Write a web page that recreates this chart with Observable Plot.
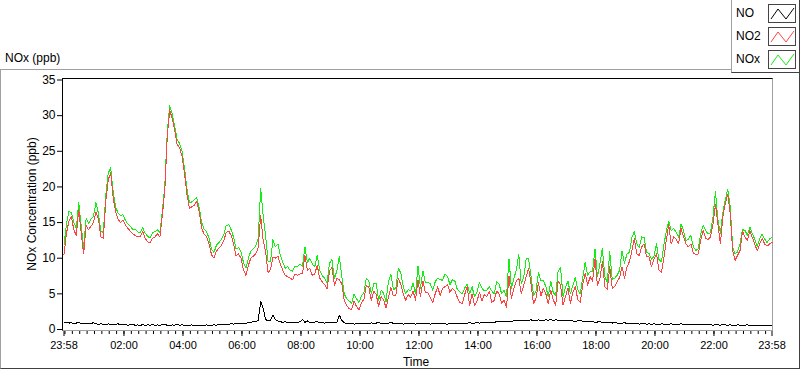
<!DOCTYPE html>
<html><head><meta charset="utf-8">
<script src="https://cdn.jsdelivr.net/npm/d3@7"></script>
<script src="https://cdn.jsdelivr.net/npm/@observablehq/plot@0.6"></script>
<style>
html,body{margin:0;padding:0;background:#fff;}
body{font-family:"Liberation Sans",Arial,sans-serif;color:#000;}
#wrap{position:relative;width:800px;height:369px;overflow:hidden;background:#fff;}
#outer{position:absolute;left:0;top:69px;width:800px;height:300px;box-sizing:border-box;border-top:1px solid #a0a0a0;border-left:1px solid #a0a0a0;border-right:1px solid #404040;border-bottom:1px solid #404040;}
#frame{position:absolute;left:62px;top:78px;width:711px;height:253px;box-sizing:border-box;border-top:1px solid #000;border-left:1px solid #000;border-right:1px solid #a0a0a0;border-bottom:1px solid #a0a0a0;}
#title{position:absolute;left:5px;top:52px;font-size:12px;line-height:12px;white-space:nowrap;}
#ylab{position:absolute;left:31.5px;top:204px;font-size:12px;line-height:12px;white-space:nowrap;transform:translate(-50%,-50%) rotate(-90deg);}
#xlab{position:absolute;left:416px;top:355.5px;font-size:12px;line-height:12px;white-space:nowrap;transform:translateX(-50%);}
#legend{position:absolute;left:731px;top:0;width:69px;height:73px;box-sizing:border-box;background:#fff;border-left:1px solid #a0a0a0;border-right:1px solid #404040;border-bottom:1px solid #404040;}
.lrow{position:absolute;left:4px;width:64px;height:20px;}
.lname{position:absolute;left:0;top:3px;font-size:12px;line-height:12px;}
.lsw{position:absolute;left:32px;top:0;width:28px;height:19px;box-sizing:border-box;border:1px solid #444;background:#fff;}
.lsw svg{position:absolute;left:0;top:0;}
#plot{position:absolute;left:0;top:0;}
</style></head><body>
<div id="wrap">
  <div id="outer"></div>
  <div id="frame"></div>
  <div id="title">NOx (ppb)</div>
  <div id="ylab">NOx Concentration (ppb)</div>
  <div id="xlab">Time</div>
  <div id="plot"></div>
  <div id="legend"></div>
</div>
<script>
const tickLabels = ["23:58","02:00","04:00","06:00","08:00","10:00","12:00","14:00","16:00","18:00","20:00","22:00","23:58"];
const yTicks = [0,5,10,15,20,25,30,35];
const seriesNames = ["NO","NO2","NOx"];
const seriesColors = ["#000000","#ff4343","#14ee14"];
const sampleMinutes = 5;
const startTime = "2021-01-01T23:58:00Z";

const NO = [
0.95,1.0,0.9,0.95,0.85,0.9,1.0,0.85,0.9,0.8,0.9,0.85,0.95,
0.8,0.7,0.8,0.75,0.65,0.8,0.7,0.75,0.7,0.8,0.65,0.7,
0.7,0.6,0.65,0.7,0.6,0.65,0.55,0.7,0.6,0.65,0.6,0.7,0.55,0.65,0.6,0.65,0.7,0.6,0.55,0.65,0.6,0.7,0.6,0.65,
0.6,0.55,0.6,0.65,0.55,0.6,0.6,0.5,0.6,0.65,0.55,0.6,0.65,0.6,0.7,0.65,0.7,0.75,0.7,0.8,0.75,0.85,0.8,0.85,
0.9,0.85,0.95,1.0,1.1,1.05,1.3,
3.9,3.0,1.4,1.2,1.3,2.0,1.4,1.2,1.1,1.0,
1.1,0.95,1.0,1.05,0.9,1.0,1.1,1.4,1.0,1.2,1.0,0.95,1.05,1.1,0.95,1.0,0.9,1.05,1.0,
1.0,0.95,1.05,2.0,1.3,0.95,0.85,0.8,0.85,0.75,0.8,0.85,
0.8,0.85,0.9,0.8,0.95,0.85,0.9,1.0,0.85,0.9,0.8,0.9,1.0,0.85,0.8,0.9,0.85,0.75,0.8,0.85,0.9,0.8,0.75,0.85,0.8,
0.85,0.8,0.9,0.75,0.8,0.85,0.8,0.9,0.85,0.8,0.75,0.85,0.9,0.8,0.85,0.9,0.8,0.85,0.9,0.95,0.85,0.9,0.95,0.9,1.0,
0.95,1.0,1.05,0.95,1.0,1.1,1.05,1.1,1.15,1.1,1.2,1.15,1.2,1.25,1.2,1.3,1.25,1.2,1.3,1.35,1.25,1.3,1.35,1.3,1.25,1.35,1.3,1.4,1.3,1.35,
1.3,1.25,1.3,1.2,1.25,1.3,1.2,1.15,1.2,1.25,1.15,1.1,1.15,1.05,1.1,1.0,1.05,1.1,1.0,0.95,1.0,0.95,0.9,1.0,0.9,0.85,0.9,0.95,0.85,0.9,
0.85,0.8,0.85,0.75,0.8,0.85,0.75,0.8,0.7,0.8,0.75,0.7,0.8,0.75,0.7,0.75,0.8,0.7,0.75,0.7,0.8,0.7,0.75,0.7,0.65,0.75,0.7,0.75,0.7,0.65,
0.7,0.65,0.7,0.6,0.7,0.65,0.6,0.7,0.65,0.6,0.65,0.6,0.55,0.65,0.6,0.55,0.6,0.65,0.55,0.6,0.5,0.55,0.6,0.5,0.55,0.5,0.55,0.5
];

const NO2 = [
10.5,13.5,15.2,15.8,14.0,13.2,16.8,13.5,10.6,14.6,14.0,14.5,
15.0,16.5,15.5,13.0,12.8,18.0,21.0,22.0,18.5,16.5,15.5,15.0,
15.4,14.6,14.2,13.8,13.4,13.2,13.0,13.0,13.8,12.8,12.3,12.2,
12.8,13.0,13.4,13.0,16.0,19.5,27.0,30.8,29.6,28.0,26.0,25.5,
24.3,22.0,19.0,17.0,17.2,17.4,18.0,16.5,14.2,13.4,13.0,12.0,
10.5,10.0,11.0,11.4,11.8,12.5,13.6,13.8,13.2,12.0,10.3,10.6,
10.0,8.4,7.6,9.0,10.0,10.3,10.6,11.5,16.0,12.5,11.0,8.0,
8.4,10.2,10.0,10.3,9.2,8.3,7.6,7.4,7.2,7.0,7.8,7.6,
7.8,7.8,10.4,8.3,8.6,7.6,7.8,9.0,7.2,6.7,6.3,5.7,
8.2,8.7,6.2,7.2,7.0,6.4,4.0,3.4,2.9,2.8,4.0,3.2,
2.8,3.8,4.2,6.2,5.9,4.1,5.4,4.9,3.2,4.6,4.2,3.0,
4.6,5.9,4.7,4.8,7.2,6.3,5.0,4.1,4.9,4.5,5.4,4.1,
7.0,4.6,6.8,5.2,5.2,4.5,3.8,5.0,6.0,4.8,5.8,6.0,
6.3,5.2,5.8,5.4,4.5,3.8,3.6,4.9,6.0,3.4,5.0,3.4,
4.0,5.2,4.0,4.9,4.6,5.4,3.8,4.1,5.4,5.0,3.7,4.1,
3.1,7.5,4.4,5.8,6.8,7.2,5.0,6.2,7.4,8.6,6.3,3.6,
4.4,6.6,4.7,5.8,5.0,3.6,5.5,4.2,3.4,6.8,6.2,3.4,
4.6,5.8,3.7,5.2,6.0,4.2,3.8,6.3,7.9,6.2,7.4,6.8,
9.9,6.2,7.2,9.5,6.0,5.6,8.8,5.8,6.0,6.7,7.3,8.8,
7.2,8.8,9.5,11.0,12.8,10.6,10.4,11.6,12.0,10.2,10.2,8.8,
9.9,10.6,8.4,8.0,10.0,12.5,14.7,12.0,13.0,12.7,12.0,14.2,
13.0,12.0,11.6,12.0,10.7,10.5,10.6,12.5,13.9,12.8,12.6,13.0,
14.8,17.6,14.8,12.0,15.8,17.7,19.0,16.2,11.0,9.7,10.4,11.1,
13.8,13.0,12.5,13.9,12.9,12.0,11.0,12.0,12.8,12.0,11.7,12.0,
12.2
];

const NOx = [
11.8,14.8,16.6,16.4,15.0,14.2,17.8,14.5,11.5,15.6,14.9,15.5,
15.9,17.8,16.3,13.8,13.6,18.9,21.9,22.7,19.3,17.2,16.3,16.0,
16.1,15.3,14.8,14.5,14.0,14.1,13.7,13.6,14.3,13.5,13.1,12.8,
13.6,13.7,14.0,13.6,16.6,20.2,27.6,31.4,30.3,28.6,26.7,26.1,
25.0,22.7,19.8,17.8,17.9,18.2,18.5,17.1,15.0,14.1,13.7,12.8,
11.3,10.8,11.8,12.2,12.6,13.3,14.6,14.7,14.0,12.9,11.3,11.5,
10.9,9.4,8.6,10.0,11.0,11.3,11.7,12.8,19.8,16.0,13.2,9.6,
9.6,12.6,11.6,12.0,10.4,9.4,8.6,8.8,8.3,8.2,8.9,8.8,
9.2,8.9,11.6,9.4,10.0,9.2,8.8,10.4,8.3,7.6,7.2,6.6,
9.3,9.8,7.2,8.2,10.3,7.4,5.0,4.3,4.0,3.7,5.0,4.3,
3.8,4.7,5.2,7.2,6.8,5.0,6.4,6.5,4.1,5.5,5.1,3.9,
6.8,7.7,5.6,5.8,8.6,7.9,6.0,5.0,5.6,5.4,6.5,5.0,
8.9,5.8,8.2,6.6,6.6,6.4,5.5,6.7,7.2,7.0,6.9,7.8,
7.4,6.3,7.0,6.8,5.6,5.3,5.0,5.8,6.4,5.0,6.0,4.6,
5.2,6.6,5.8,5.4,5.5,6.0,5.4,5.0,6.7,6.4,5.0,5.5,
4.6,9.9,5.8,7.2,8.3,10.6,6.4,7.3,9.9,9.9,7.4,4.8,
5.4,8.0,6.8,6.9,6.0,4.6,6.8,5.2,4.8,8.2,8.7,4.6,
5.9,6.8,5.0,6.2,7.3,5.6,5.0,7.3,9.4,7.6,8.1,8.1,
11.3,7.4,9.2,11.4,7.4,6.6,10.9,7.0,7.2,7.6,8.3,11.0,
9.3,10.6,10.8,12.9,13.7,12.0,11.5,13.0,12.9,10.8,10.7,9.8,
10.3,12.0,9.8,9.5,11.8,13.8,15.2,13.8,14.2,13.6,12.9,14.8,
13.9,12.4,12.7,13.2,11.6,11.1,11.3,13.4,14.6,13.9,13.4,13.6,
15.8,19.3,15.4,13.5,16.4,18.2,19.7,17.2,11.6,10.6,10.9,12.0,
14.0,13.9,13.2,14.4,13.4,12.7,11.6,12.7,13.4,12.7,12.2,12.7,
12.9
];

const start = new Date(startTime);
const end = new Date(+start + 24 * 60 * 60000);
const timeOf = i => new Date(+start + i * sampleMinutes * 60000);
const toRows = arr => arr.map((v, i) => ({t: timeOf(i), v}));
const seriesData = [NO, NO2, NOx].map(toRows);

const majors = tickLabels.map((lab, i) => {
  const [h, m] = lab.split(":").map(Number);
  return new Date(Date.UTC(start.getUTCFullYear(), start.getUTCMonth(), start.getUTCDate() + (i === 0 ? 0 : 1), h, m));
});
const labelMap = new Map(majors.map((d, i) => [+d, tickLabels[i]]));
const dayStart = new Date(Date.UTC(start.getUTCFullYear(), start.getUTCMonth(), start.getUTCDate() + 1));
const minors = d3.utcMinute.every(15).range(dayStart, end);

const chart = Plot.plot({
  width: 800, height: 369,
  marginLeft: 62, marginRight: 28, marginTop: 78, marginBottom: 38,
  x: {type: "utc", domain: [start, end], range: [63.5, 771.5]},
  y: {domain: [0, 35], range: [329, 79.5]},
  style: {background: "transparent", fontFamily: '"Liberation Sans", Arial, sans-serif', fontSize: "12px", color: "#000", overflow: "visible"},
  marks: [
    Plot.axisY(yTicks, {tickSize: 5, tickPadding: 2, fontSize: 12, label: null}),
    Plot.axisX(minors, {tickSize: 3, tickFormat: () => "", label: null}),
    Plot.axisX(majors, {tickSize: 5, tickPadding: 4.5, fontSize: 11, tickFormat: d => labelMap.get(+d) ?? "", label: null}),
    Plot.line(seriesData[2], {x: "t", y: "v", stroke: seriesColors[2], strokeWidth: 1, shapeRendering: "crispEdges"}),
    Plot.line(seriesData[1], {x: "t", y: "v", stroke: seriesColors[1], strokeWidth: 1, shapeRendering: "crispEdges"}),
    Plot.line(seriesData[0], {x: "t", y: "v", stroke: seriesColors[0], strokeWidth: 1, shapeRendering: "crispEdges"})
  ]
});
document.getElementById("plot").appendChild(chart);

// legend
const legend = document.getElementById("legend");
seriesNames.forEach((name, i) => {
  const row = document.createElement("div");
  row.className = "lrow";
  row.style.top = (4 + i * 23) + "px";
  row.innerHTML = `<div class="lname">${name}</div><div class="lsw"><svg width="26" height="17"><polyline points="2,14 9,4 17,14 25,3" fill="none" stroke="${seriesColors[i]}" stroke-width="1"/></svg></div>`;
  legend.appendChild(row);
});
</script>
</body></html>
